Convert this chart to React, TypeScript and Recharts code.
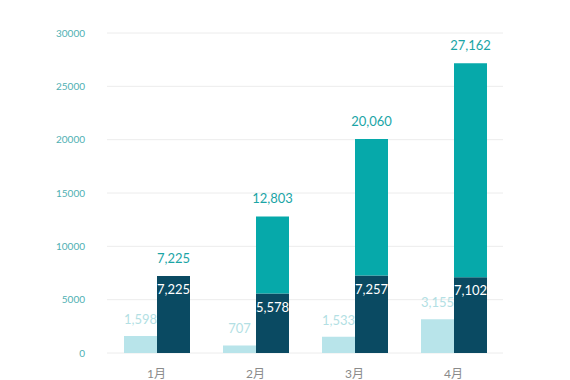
import { BarChart, Bar, XAxis, YAxis, CartesianGrid, LabelList } from 'recharts';

const months = ['1月', '2月', '3月', '4月'];
const lightValues = [1598, 707, 1533, 3155];
const darkValues = [7225, 5578, 7257, 7102];
const tealValues = [0, 7225, 12803, 20060];
const totals = [7225, 12803, 20060, 27162];
const yTicks = [0, 5000, 10000, 15000, 20000, 25000, 30000];

const data = months.map((m, i) => ({
    month: m,
    light: lightValues[i],
    dark: darkValues[i],
    teal: tealValues[i],
    total: totals[i],
}));

const fmt = (v: any) => (v == null || v === '' ? '' : Number(v).toLocaleString('en-US'));
const font = 'Lato, "Noto Sans CJK SC", sans-serif';

// the total sits on the teal segment; when it has no height, put it on the dark one
const totalOnDark = (d: any) => (d.teal === 0 ? d.total : '');
const totalOnTeal = (d: any) => (d.teal === 0 ? '' : d.total);

export default function App() {
    return (
        <div style={{ position: 'absolute', left: 0, top: 0, background: '#fff' }}>
            <BarChart
                width={570} height={380} data={data}
                margin={{ top: 33, right: 67, bottom: 0, left: 0 }}
                barGap={0} style={{ fontFamily: font }}
            >
                <CartesianGrid vertical={false} stroke="#ececec" />
                <XAxis
                    dataKey="month" axisLine={false} tickLine={false} height={27}
                    tickMargin={10} tick={{ fill: '#8a8a8a', fontSize: 12 }}
                />
                <YAxis
                    domain={[0, 30000]} ticks={yTicks} axisLine={false} tickLine={false}
                    width={107} tickMargin={16} tick={{ fill: '#4fb0b3', fontSize: 10 }}
                />
                <Bar dataKey="light" stackId="a" fill="#b8e4ea" barSize={33} isAnimationActive={false}>
                    <LabelList dataKey="light" position="top" offset={12} fill="#b3dfe4" fontSize={13} formatter={fmt} />
                </Bar>
                <Bar dataKey="dark" stackId="b" fill="#0a4a62" barSize={33} isAnimationActive={false}>
                    <LabelList dataKey="dark" position="insideTop" offset={9} fill="#ffffff" fontSize={13} formatter={fmt} />
                    <LabelList dataKey={totalOnDark} position="top" offset={13} fill="#1ba5a6" fontSize={13} formatter={fmt} />
                </Bar>
                <Bar dataKey="teal" stackId="b" fill="#06a9aa" barSize={33} isAnimationActive={false}>
                    <LabelList dataKey={totalOnTeal} position="top" offset={13} fill="#1ba5a6" fontSize={13} formatter={fmt} />
                </Bar>
            </BarChart>
        </div>
    );
}
